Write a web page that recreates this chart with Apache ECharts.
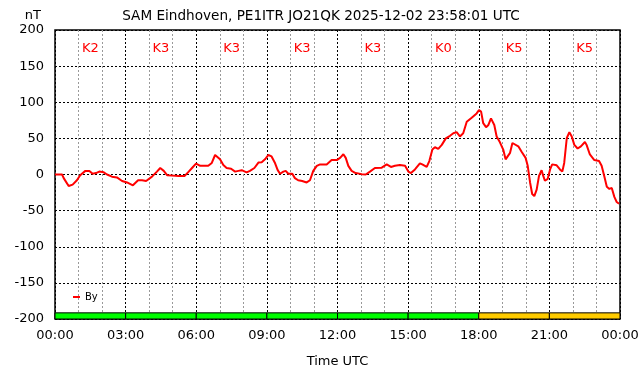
<!DOCTYPE html>
<html>
<head>
<meta charset="utf-8">
<script src="https://cdn.jsdelivr.net/npm/echarts@6/dist/echarts.min.js"></script>
<style>
html,body{margin:0;padding:0;background:#fff;}
#chart{width:642px;height:376px;}
</style>
</head>
<body>
<div id="chart"></div>
<script>
// ---- data ----
const titleText = 'SAM Eindhoven, PE1ITR JO21QK 2025-12-02 23:58:01 UTC';
const xTickLabels = ['00:00','03:00','06:00','09:00','12:00','15:00','18:00','21:00','00:00'];
const kIndex = [2, 3, 3, 3, 3, 0, 5, 5];
const hours = [
  0, 0.30, 0.37, 0.58, 0.75, 0.93, 1.07, 1.29, 1.46, 1.60, 1.74, 1.88, 2.07, 2.21, 2.42, 2.63, 2.85,
  3.06, 3.31, 3.53, 3.70, 3.87, 4.12, 4.33, 4.47, 4.62, 4.76, 4.97, 5.25, 5.51, 5.68, 5.82, 5.99,
  6.17, 6.30, 6.51, 6.66, 6.80, 6.87, 7.01, 7.15, 7.29, 7.48, 7.65, 7.79, 7.93, 8.14, 8.28, 8.47,
  8.64, 8.78, 8.92, 9.06, 9.20, 9.35, 9.46, 9.56, 9.70, 9.80, 9.91, 10.08, 10.19, 10.33, 10.50,
  10.69, 10.83, 10.97, 11.12, 11.26, 11.54, 11.75, 11.97, 12.11, 12.25, 12.35, 12.46, 12.60, 12.77,
  13.03, 13.20, 13.38, 13.59, 13.88, 14.09, 14.27, 14.44, 14.65, 14.87, 15.01, 15.12, 15.29, 15.50,
  15.60, 15.79, 15.90, 16.03, 16.14, 16.28, 16.43, 16.60, 16.78, 16.92, 17.06, 17.20, 17.34, 17.49,
  17.70, 17.91, 18.01, 18.10, 18.19, 18.31, 18.41, 18.52, 18.57, 18.66, 18.76, 18.90, 19.04, 19.14,
  19.21, 19.33, 19.43, 19.51, 19.68, 19.82, 19.99, 20.08, 20.18, 20.27, 20.36, 20.46, 20.56, 20.67,
  20.74, 20.81, 20.93, 21.03, 21.12, 21.31, 21.45, 21.55, 21.63, 21.74, 21.85, 21.95, 22.06, 22.20,
  22.34, 22.51, 22.58, 22.72, 22.91, 23.11, 23.22, 23.33, 23.44, 23.55, 23.65, 23.76, 23.86, 23.96
];
const byValues = [
  0, 0, -5, -16, -14, -8, -1, 5, 5, 1, 2, 4, 3, 0, -3, -4, -9,
  -11, -15, -8, -8, -9, -3, 4, 9, 5, -1, -1.5, -2, -2, 4, 9, 15,
  12, 12, 12, 16, 27, 28.5, 21, 13, 9, 8, 4, 5, 6, 3, 5, 9,
  16.5, 17, 21, 27, 25, 15.5, 6, 1, 4, 5, 1, 1, -5, -8, -9,
  -11, -8, 5, 12, 14, 14, 20, 20, 23, 28, 23, 12, 5, 2,
  0.5, 0, 4, 9, 9.5, 14, 10.5, 12, 13, 12, 4, 2, 7, 15.5,
  14, 10.5, 18.6, 34.5, 37.7, 35.5, 41, 50, 53.6, 57, 58.6, 52.7, 57, 73,
  78.6, 84.5, 89, 87, 71, 65.5, 68.6, 77.7, 78.6, 68.6, 52.7, 44.5, 34.5, 21,
  20, 30, 43.6, 45, 39, 31.4, 23, 12, -11, -27, -30, -21, -2, 6,
  -2, -8.6, -6, 7, 14, 12.7, 7, 4, 16, 50.5, 58.6, 52.7, 41, 36,
  39, 45, 41, 27.7, 20, 18.6, 12, -2, -17, -20, -18.6, -31, -38, -40.5
];

// ---- chart ----
const FONT = 'DejaVu Sans';
const bandTop = -191.5;
const kColor = k => (k >= 5 ? '#ffcc00' : (k >= 4 ? '#ffff00' : '#00ff00'));

const markAreas = [];
kIndex.forEach((k, i) => {
  markAreas.push([
    { xAxis: i * 3, yAxis: 200, itemStyle: { color: 'rgba(0,0,0,0)', borderWidth: 0 },
      label: { show: true, formatter: 'K' + k } },
    { xAxis: i * 3 + 3, yAxis: -200 }
  ]);
});
kIndex.forEach((k, i) => {
  markAreas.push([
    { xAxis: i * 3, yAxis: -200, itemStyle: { color: kColor(k), borderColor: '#000', borderWidth: 1 },
      label: { show: false } },
    { xAxis: i * 3 + 3, yAxis: bandTop }
  ]);
});

const chart = echarts.init(document.getElementById('chart'), null, { renderer: 'canvas' });
chart.setOption({
  animation: false,
  backgroundColor: '#fff',
  textStyle: { fontFamily: FONT },
  title: {
    text: titleText, left: 'center', top: 4,
    textStyle: { fontFamily: FONT, fontSize: 13.6, fontWeight: 'normal', color: '#000' }
  },
  legend: {
    data: ['By'], left: 68, top: 287, orient: 'vertical',
    icon: 'rect', itemWidth: 7, itemHeight: 2,
    textStyle: { fontFamily: FONT, fontSize: 10, color: '#000' }
  },
  grid: {
    left: 55, right: 22, top: 30, bottom: 57,
    show: true, borderColor: '#000', borderWidth: 1.5, backgroundColor: '#fff'
  },
  xAxis: {
    type: 'value', min: 0, max: 24, interval: 3,
    name: 'Time UTC', nameLocation: 'middle', nameGap: 36,
    nameTextStyle: { fontFamily: FONT, fontSize: 13, color: '#000' },
    axisLine: { show: false }, axisTick: { show: false },
    axisLabel: { fontFamily: FONT, fontSize: 13, color: '#000', margin: 10,
      formatter: v => xTickLabels[Math.round(v / 3)] },
    splitLine: { show: true, lineStyle: { color: '#000', type: [2, 2], width: 1 } },
    minorTick: { show: false, splitNumber: 3 },
    minorSplitLine: { show: true, lineStyle: { color: '#999', type: [2, 2], width: 1 } }
  },
  yAxis: {
    type: 'value', min: -200, max: 200, interval: 50,
    name: 'nT', nameLocation: 'end', nameGap: 8,
    nameTextStyle: { fontFamily: FONT, fontSize: 13, color: '#000', align: 'right', padding: [0, 14, 0, 0] },
    axisLine: { show: false }, axisTick: { show: false },
    axisLabel: { fontFamily: FONT, fontSize: 13, color: '#000', margin: 11 },
    splitLine: { show: true, lineStyle: { color: '#000', type: [2, 2], width: 1 } }
  },
  series: [{
    name: 'By', type: 'line',
    data: hours.map((h, i) => [h, byValues[i]]),
    showSymbol: false, symbol: 'none',
    lineStyle: { color: '#ff0000', width: 2 },
    itemStyle: { color: '#ff0000' },
    z: 3,
    markArea: {
      silent: true,
      label: { position: 'insideTop', distance: 12, color: '#ff0000',
        fontFamily: FONT, fontSize: 13 },
      data: markAreas
    }
  }]
});
</script>
</body>
</html>
